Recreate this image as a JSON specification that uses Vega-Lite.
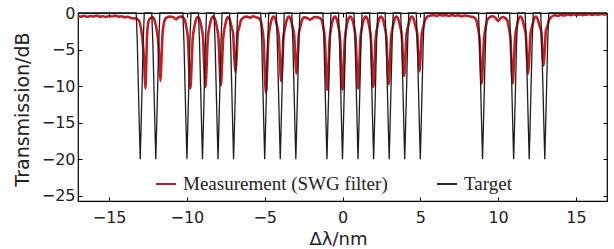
{
"$schema": "https://vega.github.io/schema/vega-lite/v6.json",
"autosize": {"type": "none"},
"width": 529, "height": 188,
"padding": {"left": 78, "top": 13, "right": 7, "bottom": 48},
"background": "white",
"config": {
  "view": {"stroke": "#000", "strokeWidth": 1.2},
  "axis": {"grid": false, "domain": false, "labelFont": "DejaVu Sans", "labelFontSize": 16, "labelColor": "#222", "titleFont": "DejaVu Sans", "titleColor": "#222", "titleFontWeight": "normal", "tickColor": "#000", "tickSize": -4, "tickWidth": 1}
},
"datasets": {
"meas": [
{"x":-17,"y":-0.45},{"x":-16.8,"y":-0.5},{"x":-16.6,"y":-0.38},{"x":-16.4,"y":-0.52},{"x":-16.2,"y":-0.42},{"x":-16,"y":-0.48},{"x":-15.8,"y":-0.35},{"x":-15.6,"y":-0.5},{"x":-15.4,"y":-0.44},{"x":-15.2,"y":-0.55},{"x":-15,"y":-0.4},{"x":-14.8,"y":-0.47},{"x":-14.6,"y":-0.36},{"x":-14.4,"y":-0.5},{"x":-14.2,"y":-0.45},{"x":-14,"y":-0.58},{"x":-13.8,"y":-0.52},{"x":-13.6,"y":-0.68},{"x":-13.45,"y":-0.72},{"x":-13.3,"y":-0.75},
{"x":-13.1,"y":-1.0},{"x":-13.0,"y":-1.6},{"x":-12.9,"y":-2.8},{"x":-12.8,"y":-5.0},{"x":-12.73,"y":-7.5},{"x":-12.67,"y":-10.3},{"x":-12.62,"y":-7.5},{"x":-12.57,"y":-3.5},{"x":-12.5,"y":-1.5},{"x":-12.4,"y":-0.8},{"x":-12.2,"y":-0.6},
{"x":-12.05,"y":-1.2},{"x":-11.95,"y":-2.2},{"x":-11.85,"y":-3.8},{"x":-11.77,"y":-6.5},{"x":-11.7,"y":-9.3},{"x":-11.64,"y":-6.5},{"x":-11.57,"y":-3.0},{"x":-11.48,"y":-1.4},{"x":-11.35,"y":-0.7},
{"x":-11.1,"y":-0.5},{"x":-10.9,"y":-0.55},{"x":-10.7,"y":-0.85},{"x":-10.55,"y":-0.6},{"x":-10.4,"y":-0.5},{"x":-10.25,"y":-0.6},
{"x":-10.13,"y":-1.0},{"x":-10.03,"y":-2.0},{"x":-9.93,"y":-3.6},{"x":-9.86,"y":-7.2},{"x":-9.78,"y":-10.3},{"x":-9.7,"y":-7.2},{"x":-9.63,"y":-3.6},{"x":-9.53,"y":-2.0},{"x":-9.43,"y":-1.0},{"x":-9.3,"y":-0.55},
{"x":-9.16,"y":-1.0},{"x":-9.06,"y":-2.0},{"x":-8.96,"y":-3.5},{"x":-8.89,"y":-7.1},{"x":-8.81,"y":-10.1},{"x":-8.73,"y":-7.1},{"x":-8.66,"y":-3.5},{"x":-8.56,"y":-2.0},{"x":-8.46,"y":-1.0},{"x":-8.32,"y":-0.5},
{"x":-8.17,"y":-1.0},{"x":-8.07,"y":-2.0},{"x":-7.97,"y":-3.5},{"x":-7.9,"y":-6.9},{"x":-7.82,"y":-9.9},{"x":-7.74,"y":-6.9},{"x":-7.67,"y":-3.5},{"x":-7.57,"y":-2.0},{"x":-7.47,"y":-1.0},{"x":-7.35,"y":-0.55},
{"x":-7.23,"y":-1.0},{"x":-7.13,"y":-1.9},{"x":-7.03,"y":-2.8},{"x":-6.96,"y":-5.7},{"x":-6.88,"y":-8.1},{"x":-6.8,"y":-5.7},{"x":-6.73,"y":-2.8},{"x":-6.63,"y":-1.9},{"x":-6.53,"y":-1.0},
{"x":-6.35,"y":-0.6},{"x":-6.15,"y":-0.5},{"x":-5.95,"y":-0.65},{"x":-5.75,"y":-0.45},{"x":-5.55,"y":-0.6},{"x":-5.4,"y":-0.7},
{"x":-5.27,"y":-1.0},{"x":-5.17,"y":-2.0},{"x":-5.07,"y":-3.8},{"x":-5.0,"y":-7.6},{"x":-4.92,"y":-10.9},{"x":-4.84,"y":-7.6},{"x":-4.77,"y":-3.8},{"x":-4.67,"y":-2.0},{"x":-4.57,"y":-1.0},{"x":-4.43,"y":-0.5},
{"x":-4.29,"y":-1.0},{"x":-4.19,"y":-2.0},{"x":-4.09,"y":-3.3},{"x":-4.02,"y":-6.5},{"x":-3.94,"y":-9.3},{"x":-3.86,"y":-6.5},{"x":-3.79,"y":-3.3},{"x":-3.69,"y":-2.0},{"x":-3.59,"y":-1.0},{"x":-3.45,"y":-0.5},
{"x":-3.31,"y":-1.0},{"x":-3.21,"y":-1.9},{"x":-3.11,"y":-2.9},{"x":-3.04,"y":-5.8},{"x":-2.96,"y":-8.3},{"x":-2.88,"y":-5.8},{"x":-2.81,"y":-2.9},{"x":-2.71,"y":-1.9},{"x":-2.61,"y":-1.0},
{"x":-2.45,"y":-0.6},{"x":-2.25,"y":-0.7},{"x":-2.1,"y":-0.9},{"x":-1.95,"y":-0.75},{"x":-1.8,"y":-0.55},{"x":-1.6,"y":-0.6},{"x":-1.45,"y":-0.7},
{"x":-1.33,"y":-1.0},{"x":-1.23,"y":-2.0},{"x":-1.13,"y":-3.7},{"x":-1.06,"y":-7.4},{"x":-0.98,"y":-10.5},{"x":-0.9,"y":-7.4},{"x":-0.83,"y":-3.7},{"x":-0.73,"y":-2.0},{"x":-0.63,"y":-1.0},{"x":-0.49,"y":-0.5},
{"x":-0.35,"y":-1.0},{"x":-0.25,"y":-2.0},{"x":-0.15,"y":-3.7},{"x":-0.08,"y":-7.4},{"x":0,"y":-10.5},{"x":0.08,"y":-7.4},{"x":0.15,"y":-3.7},{"x":0.25,"y":-2.0},{"x":0.35,"y":-1.0},{"x":0.5,"y":-0.5},
{"x":0.65,"y":-1.0},{"x":0.75,"y":-2.0},{"x":0.85,"y":-3.6},{"x":0.92,"y":-7.2},{"x":1.0,"y":-10.3},{"x":1.08,"y":-7.2},{"x":1.15,"y":-3.6},{"x":1.25,"y":-2.0},{"x":1.35,"y":-1.0},{"x":1.49,"y":-0.5},
{"x":1.63,"y":-1.0},{"x":1.73,"y":-2.0},{"x":1.83,"y":-3.5},{"x":1.9,"y":-7.1},{"x":1.98,"y":-10.1},{"x":2.06,"y":-7.1},{"x":2.13,"y":-3.5},{"x":2.23,"y":-2.0},{"x":2.33,"y":-1.0},{"x":2.47,"y":-0.5},
{"x":2.62,"y":-1.0},{"x":2.72,"y":-2.0},{"x":2.82,"y":-3.4},{"x":2.89,"y":-6.8},{"x":2.97,"y":-9.7},{"x":3.05,"y":-6.8},{"x":3.12,"y":-3.4},{"x":3.22,"y":-2.0},{"x":3.32,"y":-1.0},{"x":3.46,"y":-0.5},
{"x":3.61,"y":-1.0},{"x":3.71,"y":-1.9},{"x":3.81,"y":-3.0},{"x":3.88,"y":-6.0},{"x":3.96,"y":-8.6},{"x":4.04,"y":-6.0},{"x":4.11,"y":-3.0},{"x":4.21,"y":-1.9},{"x":4.31,"y":-1.0},{"x":4.45,"y":-0.5},
{"x":4.6,"y":-1.0},{"x":4.7,"y":-1.9},{"x":4.8,"y":-2.8},{"x":4.87,"y":-5.6},{"x":4.95,"y":-8.0},{"x":5.03,"y":-5.6},{"x":5.1,"y":-2.8},{"x":5.2,"y":-1.9},{"x":5.3,"y":-1.0},
{"x":5.45,"y":-0.5},{"x":5.65,"y":-0.35},{"x":5.85,"y":-0.3},{"x":6.05,"y":-0.4},{"x":6.25,"y":-0.25},{"x":6.45,"y":-0.35},{"x":6.65,"y":-0.3},{"x":6.85,"y":-0.4},{"x":7.05,"y":-0.28},{"x":7.25,"y":-0.38},{"x":7.45,"y":-0.3},{"x":7.65,"y":-0.45},{"x":7.85,"y":-0.35},{"x":8.05,"y":-0.42},{"x":8.25,"y":-0.5},{"x":8.45,"y":-0.6},
{"x":8.6,"y":-1.0},{"x":8.7,"y":-2.0},{"x":8.8,"y":-3.4},{"x":8.87,"y":-6.7},{"x":8.95,"y":-9.6},{"x":9.03,"y":-6.7},{"x":9.1,"y":-3.4},{"x":9.2,"y":-2.0},{"x":9.3,"y":-1.0},
{"x":9.45,"y":-0.6},{"x":9.65,"y":-0.45},{"x":9.85,"y":-0.7},{"x":10.0,"y":-1.1},{"x":10.12,"y":-0.8},{"x":10.3,"y":-0.55},{"x":10.45,"y":-0.7},
{"x":10.59,"y":-1.0},{"x":10.69,"y":-2.0},{"x":10.79,"y":-3.4},{"x":10.86,"y":-6.7},{"x":10.94,"y":-9.6},{"x":11.02,"y":-6.7},{"x":11.09,"y":-3.4},{"x":11.19,"y":-2.0},{"x":11.29,"y":-1.0},{"x":11.43,"y":-0.5},
{"x":11.58,"y":-1.0},{"x":11.68,"y":-1.9},{"x":11.78,"y":-2.9},{"x":11.85,"y":-5.8},{"x":11.93,"y":-8.3},{"x":12.01,"y":-5.8},{"x":12.08,"y":-2.9},{"x":12.18,"y":-1.9},{"x":12.28,"y":-1.0},{"x":12.42,"y":-0.5},
{"x":12.57,"y":-1.0},{"x":12.67,"y":-1.8},{"x":12.77,"y":-2.5},{"x":12.84,"y":-5.0},{"x":12.92,"y":-7.2},{"x":13.0,"y":-5.0},{"x":13.07,"y":-2.5},{"x":13.17,"y":-1.8},{"x":13.27,"y":-1.0},
{"x":13.45,"y":-0.5},{"x":13.65,"y":-0.3},{"x":13.85,"y":-0.4},{"x":14.05,"y":-0.25},{"x":14.25,"y":-0.35},{"x":14.45,"y":-0.2},{"x":14.65,"y":-0.3},{"x":14.85,"y":-0.18},{"x":15.05,"y":-0.28},{"x":15.25,"y":-0.2},{"x":15.45,"y":-0.3},{"x":15.65,"y":-0.22},{"x":15.85,"y":-0.15},{"x":16.05,"y":-0.25},{"x":16.25,"y":-0.18},{"x":16.45,"y":-0.22},{"x":16.65,"y":-0.15},{"x":16.85,"y":-0.2},{"x":17,"y":-0.18}
],
"target": [
{"x":-17,"y":0},
{"x":-13.26,"y":0},{"x":-13.19,"y":-4},{"x":-13.12,"y":-10},{"x":-13.05,"y":-16},{"x":-13,"y":-20},{"x":-12.95,"y":-16},{"x":-12.88,"y":-10},{"x":-12.81,"y":-4},{"x":-12.74,"y":0},
{"x":-12.26,"y":0},{"x":-12.19,"y":-4},{"x":-12.12,"y":-10},{"x":-12.05,"y":-16},{"x":-12,"y":-20},{"x":-11.95,"y":-16},{"x":-11.88,"y":-10},{"x":-11.81,"y":-4},{"x":-11.74,"y":0},
{"x":-10.26,"y":0},{"x":-10.19,"y":-4},{"x":-10.12,"y":-10},{"x":-10.05,"y":-16},{"x":-10,"y":-20},{"x":-9.95,"y":-16},{"x":-9.88,"y":-10},{"x":-9.81,"y":-4},{"x":-9.74,"y":0},
{"x":-9.26,"y":0},{"x":-9.19,"y":-4},{"x":-9.12,"y":-10},{"x":-9.05,"y":-16},{"x":-9,"y":-20},{"x":-8.95,"y":-16},{"x":-8.88,"y":-10},{"x":-8.81,"y":-4},{"x":-8.74,"y":0},
{"x":-8.26,"y":0},{"x":-8.19,"y":-4},{"x":-8.12,"y":-10},{"x":-8.05,"y":-16},{"x":-8,"y":-20},{"x":-7.95,"y":-16},{"x":-7.88,"y":-10},{"x":-7.81,"y":-4},{"x":-7.74,"y":0},
{"x":-7.26,"y":0},{"x":-7.19,"y":-4},{"x":-7.12,"y":-10},{"x":-7.05,"y":-16},{"x":-7,"y":-20},{"x":-6.95,"y":-16},{"x":-6.88,"y":-10},{"x":-6.81,"y":-4},{"x":-6.74,"y":0},
{"x":-5.26,"y":0},{"x":-5.19,"y":-4},{"x":-5.12,"y":-10},{"x":-5.05,"y":-16},{"x":-5,"y":-20},{"x":-4.95,"y":-16},{"x":-4.88,"y":-10},{"x":-4.81,"y":-4},{"x":-4.74,"y":0},
{"x":-4.26,"y":0},{"x":-4.19,"y":-4},{"x":-4.12,"y":-10},{"x":-4.05,"y":-16},{"x":-4,"y":-20},{"x":-3.95,"y":-16},{"x":-3.88,"y":-10},{"x":-3.81,"y":-4},{"x":-3.74,"y":0},
{"x":-3.26,"y":0},{"x":-3.19,"y":-4},{"x":-3.12,"y":-10},{"x":-3.05,"y":-16},{"x":-3,"y":-20},{"x":-2.95,"y":-16},{"x":-2.88,"y":-10},{"x":-2.81,"y":-4},{"x":-2.74,"y":0},
{"x":-1.26,"y":0},{"x":-1.19,"y":-4},{"x":-1.12,"y":-10},{"x":-1.05,"y":-16},{"x":-1,"y":-20},{"x":-0.95,"y":-16},{"x":-0.88,"y":-10},{"x":-0.81,"y":-4},{"x":-0.74,"y":0},
{"x":-0.26,"y":0},{"x":-0.19,"y":-4},{"x":-0.12,"y":-10},{"x":-0.05,"y":-16},{"x":0,"y":-20},{"x":0.05,"y":-16},{"x":0.12,"y":-10},{"x":0.19,"y":-4},{"x":0.26,"y":0},
{"x":0.74,"y":0},{"x":0.81,"y":-4},{"x":0.88,"y":-10},{"x":0.95,"y":-16},{"x":1,"y":-20},{"x":1.05,"y":-16},{"x":1.12,"y":-10},{"x":1.19,"y":-4},{"x":1.26,"y":0},
{"x":1.74,"y":0},{"x":1.81,"y":-4},{"x":1.88,"y":-10},{"x":1.95,"y":-16},{"x":2,"y":-20},{"x":2.05,"y":-16},{"x":2.12,"y":-10},{"x":2.19,"y":-4},{"x":2.26,"y":0},
{"x":2.74,"y":0},{"x":2.81,"y":-4},{"x":2.88,"y":-10},{"x":2.95,"y":-16},{"x":3,"y":-20},{"x":3.05,"y":-16},{"x":3.12,"y":-10},{"x":3.19,"y":-4},{"x":3.26,"y":0},
{"x":3.74,"y":0},{"x":3.81,"y":-4},{"x":3.88,"y":-10},{"x":3.95,"y":-16},{"x":4,"y":-20},{"x":4.05,"y":-16},{"x":4.12,"y":-10},{"x":4.19,"y":-4},{"x":4.26,"y":0},
{"x":4.74,"y":0},{"x":4.81,"y":-4},{"x":4.88,"y":-10},{"x":4.95,"y":-16},{"x":5,"y":-20},{"x":5.05,"y":-16},{"x":5.12,"y":-10},{"x":5.19,"y":-4},{"x":5.26,"y":0},
{"x":8.74,"y":0},{"x":8.81,"y":-4},{"x":8.88,"y":-10},{"x":8.95,"y":-16},{"x":9,"y":-20},{"x":9.05,"y":-16},{"x":9.12,"y":-10},{"x":9.19,"y":-4},{"x":9.26,"y":0},
{"x":10.74,"y":0},{"x":10.81,"y":-4},{"x":10.88,"y":-10},{"x":10.95,"y":-16},{"x":11,"y":-20},{"x":11.05,"y":-16},{"x":11.12,"y":-10},{"x":11.19,"y":-4},{"x":11.26,"y":0},
{"x":11.74,"y":0},{"x":11.81,"y":-4},{"x":11.88,"y":-10},{"x":11.95,"y":-16},{"x":12,"y":-20},{"x":12.05,"y":-16},{"x":12.12,"y":-10},{"x":12.19,"y":-4},{"x":12.26,"y":0},
{"x":12.74,"y":0},{"x":12.81,"y":-4},{"x":12.88,"y":-10},{"x":12.95,"y":-16},{"x":13,"y":-20},{"x":13.05,"y":-16},{"x":13.12,"y":-10},{"x":13.19,"y":-4},{"x":13.26,"y":0},
{"x":17,"y":0}
]
},
"layer": [
{
  "data": {"name": "meas"},
  "mark": {"type": "line", "strokeWidth": 2.6, "interpolate": "monotone", "opacity": 0.95},
  "encoding": {
    "x": {"field": "x", "type": "quantitative", "scale": {"domain": [-17, 17], "nice": false, "zero": false},
          "axis": {"values": [-15, -10, -5, 0, 5, 10, 15], "title": "Δλ/nm", "titleFontSize": 18, "labelPadding": 12, "titleX": 260, "titleY": 38, "titleAlign": "center", "titleBaseline": "middle"}},
    "y": {"field": "y", "type": "quantitative", "scale": {"domain": [-25.7, 0], "nice": false, "zero": false},
          "axis": {"values": [0, -5, -10, -15, -20, -25], "title": "Transmission/dB", "titleFontSize": 19, "labelPadding": 7, "titleX": -56, "titleY": 96, "titleAngle": -90, "titleAlign": "center", "titleBaseline": "middle"}},
    "color": {"datum": "Measurement (SWG filter)",
      "scale": {"domain": ["Measurement (SWG filter)", "Target"], "range": ["#c0121a", "#1e1e1e"]},
      "legend": {"orient": "none", "legendX": 77, "legendY": 160, "direction": "horizontal", "title": null, "symbolType": "stroke", "symbolSize": 400, "symbolStrokeWidth": 2, "labelFont": "Liberation Serif", "labelFontSize": 19, "labelColor": "#222", "labelLimit": 0, "columnPadding": 45, "labelOffset": 6}}
  }
},
{
  "data": {"name": "target"},
  "mark": {"type": "line", "strokeWidth": 1.3},
  "encoding": {
    "x": {"field": "x", "type": "quantitative", "axis": {"orient": "top", "labels": false, "title": null, "values": [-15, -10, -5, 0, 5, 10, 15]}},
    "y": {"field": "y", "type": "quantitative", "axis": {"orient": "right", "labels": false, "title": null, "values": [0, -5, -10, -15, -20, -25]}},
    "color": {"datum": "Target"}
  }
}
],
"resolve": {"axis": {"x": "independent", "y": "independent"}}
}
